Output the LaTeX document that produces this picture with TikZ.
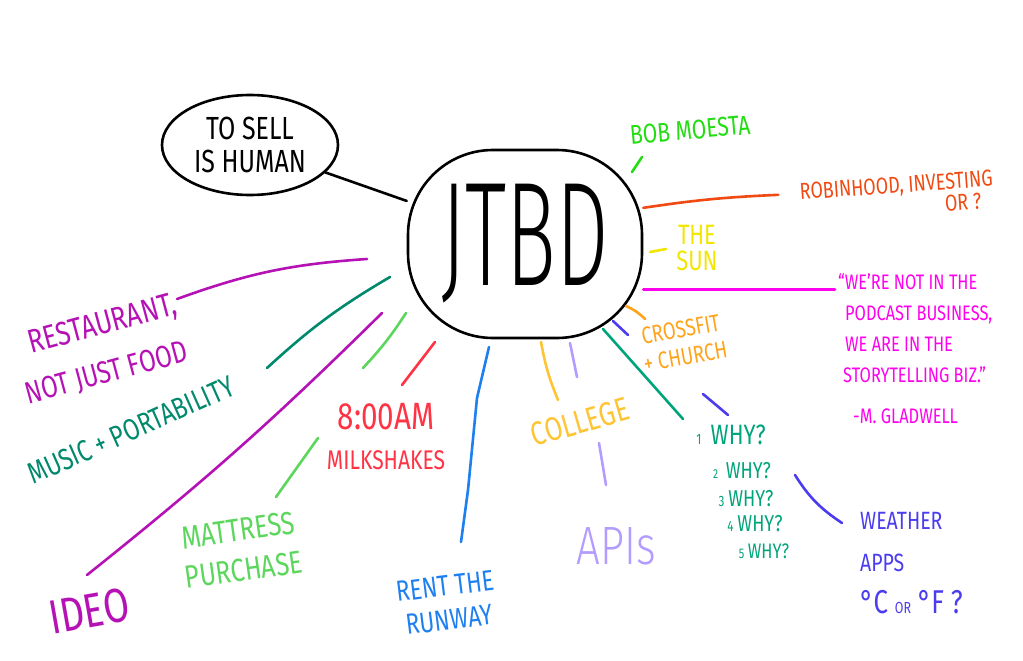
\documentclass[tikz,border=0pt]{standalone}
\usepackage{fontspec}
\setmainfont{Fira Sans}[FakeStretch=0.78]
\newfontfamily\thinfont{Fira Sans Light}[FakeStretch=0.78]
\newfontfamily\jtbdfont{Fira Sans Light}[FakeStretch=0.56]
\usetikzlibrary{shapes.geometric}

\definecolor{bobgreen}{HTML}{22DD11}
\definecolor{robinred}{HTML}{F04A12}
\definecolor{sunyellow}{HTML}{F2E600}
\definecolor{quotepink}{HTML}{FF00EE}
\definecolor{crossorange}{HTML}{FFA31A}
\definecolor{whyteal}{HTML}{00A47A}
\definecolor{weatherblue}{HTML}{4B3CF0}
\definecolor{collegegold}{HTML}{FFC433}
\definecolor{apililac}{HTML}{B39CFF}
\definecolor{runwayblue}{HTML}{1E80F0}
\definecolor{shakered}{HTML}{FF3344}
\definecolor{mattgreen}{HTML}{5CD65C}
\definecolor{ideopurple}{HTML}{B512B5}
\definecolor{musicteal}{HTML}{00896C}

\newcommand{\fs}[2]{\fontsize{#1}{#2}\selectfont}

\tikzset{
	stroke/.style={line width=2.6pt, line cap=round, line join=round},
	hand/.style={inner sep=0pt, align=center},
}

\begin{document}
\begin{tikzpicture}[x=1pt,y=-1pt]
	\useasboundingbox (0,0) rectangle (1023,661);
	
	%centre blob and bubble
	\node[draw, stroke, rounded corners=85pt, minimum width=234pt, minimum height=188pt,
		inner sep=0pt, font=\jtbdfont\fs{148}{148}] (jtbd) at (525,244) {\raisebox{-6pt}{JTBD}};
	\node[draw, stroke, ellipse, minimum width=176pt, minimum height=100pt, inner sep=0pt,
		align=center, font=\fs{32}{33}] (sell) at (250,145) {TO SELL\\IS HUMAN};
	
	%labels, clockwise from the top
	\node[hand, bobgreen, font=\fs{27}{27}, rotate=5] (bob) at (690,130) {BOB MOESTA};
	\node[hand, robinred, align=right, font=\fs{23}{22}, rotate=4] (robin) at (897,196) {ROBINHOOD, INVESTING\\OR ?\hspace*{13pt}};
	\node[hand, sunyellow, font=\fs{28}{26}] (sun) at (697,248) {THE\\SUN};
	\node[hand, quotepink, align=left, anchor=north west, font=\fs{21}{31}] (quote) at (838,273)
		{“WE'RE NOT IN THE\\\hspace*{7pt}PODCAST BUSINESS,\\\hspace*{7pt}WE ARE IN THE\\\hspace*{5pt}STORYTELLING BIZ.”\\[10pt]\hspace*{15pt}-M. GLADWELL};
	\node[hand, crossorange, font=\fs{24}{28}, rotate=10] (cross) at (683,343) {CROSSFIT\\+ CHURCH};
	\node[hand, whyteal, font=\fs{28}{28}] (why1) at (731,435) {{\fs{15}{15}1}\,\,WHY?};
	\node[hand, whyteal, font=\fs{23}{23}] (why2) at (742,471) {{\fs{13}{13}2}\,\,WHY?};
	\node[hand, whyteal, font=\fs{23}{23}] (why3) at (746,499) {{\fs{15}{15}3}\,WHY?};
	\node[hand, whyteal, font=\fs{23}{23}] (why4) at (755,524) {{\fs{15}{15}4}\,WHY?};
	\node[hand, whyteal, font=\fs{21}{21}] (why5) at (764,551) {{\fs{14}{14}5}\,WHY?};
	\node[hand, weatherblue, align=left, anchor=north west, font=\fs{25}{42}] (weather) at (860,512)
		{WEATHER\\APPS\\{\fs{33}{33}°C {\fs{16}{16}OR} °F ?}};
	\node[hand, apililac, font=\thinfont\fs{54}{54}] (apis) at (616,546) {APIs};
	\node[hand, collegegold, font=\fs{33}{33}, rotate=16] (college) at (580,422) {COLLEGE};
	\node[hand, runwayblue, font=\fs{29}{34}, rotate=7] (runway) at (447,603) {RENT THE\\RUNWAY};
	\node[hand, shakered, font=\fs{27}{40}] (shake) at (386,437) {{\fs{38}{38}8:00AM}\\MILKSHAKES};
	\node[hand, mattgreen, font=\fs{32}{40}, rotate=8] (mattress) at (241,550) {MATTRESS\\PURCHASE};
	\node[hand, ideopurple, font=\fs{48}{48}, rotate=10] (ideo) at (89,611) {IDEO};
	\node[hand, musicteal, font=\fs{30}{30}, rotate=24] (music) at (131,430) {MUSIC + PORTABILITY};
	\node[hand, ideopurple, align=left, font=\fs{33}{48}, rotate=15] (restaurant) at (101,350)
		{\hspace*{16pt}RESTAURANT,\\{\fs{31}{31}NOT JUST FOOD}};
	
	%branches
	\draw[stroke] (sell.-20) -- (jtbd.160);
	\draw[stroke, bobgreen] (jtbd) ++(107,-72) -- ++(10,-15);
	\draw[stroke, robinred] (jtbd.17) to[bend left=3] ++(135,-13);
	\draw[stroke, sunyellow] (jtbd) ++(125,8) -- ++(16,-3);
	\draw[stroke, quotepink, shorten >=3pt] (jtbd.-21) -- (quote.north west |- jtbd.-21);
	\draw[stroke, crossorange] (jtbd) ++(101,62) to[bend left=10] ++(19,13);
	\draw[stroke, weatherblue] (jtbd) ++(88,77) -- ++(15,14);
	\draw[stroke, weatherblue] (jtbd) ++(178,150) -- ++(25,21);
	\draw[stroke, weatherblue] (jtbd) ++(270,231) to[bend right=12] ++(47,48);
	\draw[stroke, whyteal] (jtbd) ++(78,85) -- ++(80,90);
	\draw[stroke, collegegold] (jtbd) ++(16,98) to[bend right=6] ++(17,58);
	\draw[stroke, apililac] (jtbd) ++(45,99) -- ++(7,34);
	\draw[stroke, apililac] (apis) ++(-17,-103) -- ++(7,42);
	\draw[stroke, runwayblue] (jtbd) ++(-36,103) -- ++(-12,51) -- ++(-9,92) -- ++(-7,52);
	\draw[stroke, shakered] (jtbd) ++(-90,98) -- ++(-33,43);
	\draw[stroke, mattgreen] (jtbd) ++(-119,69) to[bend left=5] ++(-43,55);
	\draw[stroke, mattgreen] (mattress) ++(77,-112) -- ++(-42,59);
	\draw[stroke, ideopurple] (jtbd) ++(-143,69) to[bend left=3] ++(-295,262);
	\draw[stroke, musicteal] (jtbd) ++(-135,33) to[bend right=6] ++(-123,91);
	\draw[stroke, ideopurple] (jtbd) ++(-158,15) to[bend right=8] ++(-190,40);
\end{tikzpicture}
\end{document}
